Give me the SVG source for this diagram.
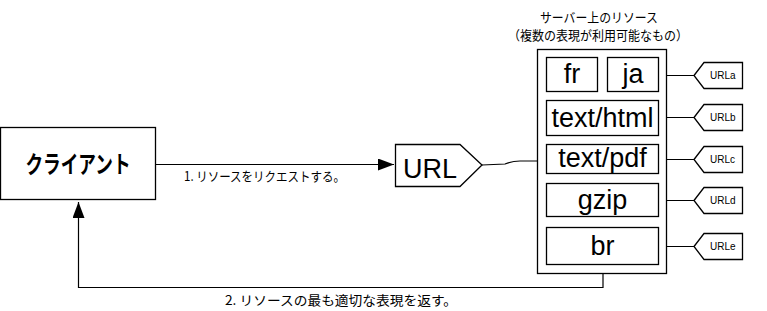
<svg xmlns="http://www.w3.org/2000/svg" width="767" height="311" viewBox="0 0 767 311">
<style>
.box{fill:#fff;stroke:#000;stroke-width:1.3}
.wire{fill:none;stroke:#000;stroke-width:1.2}
.big{font-family:"Liberation Sans",Arial,sans-serif;font-size:27px;fill:#000;text-anchor:middle}
.tag{font-family:"Liberation Sans",Arial,sans-serif;font-size:10px;fill:#000}
.jp{font-family:"Noto Sans CJK JP",sans-serif;font-size:13px;fill:#000}
</style>
<defs>
<marker id="ah" markerWidth="16" markerHeight="12" refX="16" refY="6" orient="auto" markerUnits="userSpaceOnUse">
<path d="M0,0 L16,6 L0,12 Z" fill="#000"/>
</marker>
</defs>
<g id="connectors">
<line class="wire" x1="156" y1="164.5" x2="394" y2="164.5" marker-end="url(#ah)"/>
<path class="wire" d="M603,265 V287.5 H78.5 V202" marker-end="url(#ah)"/>
<path class="wire" d="M482,165 L505,164 Q512,161 520,161 L537,161"/>
<path class="wire" d="M659,75.5 H694 M659,117.5 H694 M659,159.5 H694 M659,200.5 H694 M659,246.5 H694"/>
<text class="jp" x="184" y="181" textLength="161" lengthAdjust="spacingAndGlyphs">1. リソースをリクエストする。</text>
<text class="jp" x="225" y="305" font-size="13.5" textLength="232" lengthAdjust="spacingAndGlyphs">2. リソースの最も適切な表現を返す。</text>
</g>
<g id="client">
<rect class="box" x="0.5" y="127.5" width="155" height="72"/>
<text x="78" y="173" font-family="Noto Sans CJK JP,sans-serif" font-size="24" font-weight="bold" text-anchor="middle" textLength="105" lengthAdjust="spacingAndGlyphs">クライアント</text>
</g>
<g id="url">
<path class="box" d="M395.5,144.5 H460 L482,165 L460,186.5 H395.5 Z"/>
<text class="big" x="430" y="178">URL</text>
</g>
<g id="server">
<text class="jp" x="599" y="22" text-anchor="middle" textLength="118" lengthAdjust="spacingAndGlyphs">サーバー上のリソース</text>
<text class="jp" x="598" y="40" text-anchor="middle" textLength="180" lengthAdjust="spacingAndGlyphs">（複数の表現が利用可能なもの）</text>
<rect class="box" x="537.5" y="49.5" width="129" height="224"/>
<g id="fr"><rect class="box" x="546.5" y="57.5" width="51" height="34"/><text class="big" x="572" y="83">fr</text></g>
<g id="ja"><rect class="box" x="607.5" y="57.5" width="51" height="34"/><text class="big" x="633" y="83">ja</text></g>
<g id="html"><rect class="box" x="546.5" y="100.5" width="112" height="35"/><text class="big" x="602.5" y="127">text/html</text></g>
<g id="pdf"><rect class="box" x="546.5" y="144.5" width="112" height="29"/><text class="big" x="602.5" y="167">text/pdf</text></g>
<g id="gzip"><rect class="box" x="546.5" y="183.5" width="112" height="33"/><text class="big" x="602.5" y="209">gzip</text></g>
<g id="br"><rect class="box" x="546.5" y="227.5" width="112" height="37"/><text class="big" x="602.5" y="255">br</text></g>
</g>
<g id="urla"><path class="box" d="M694,75.5 L704,62.5 H742.5 V88.5 H704 Z"/><text class="tag" x="710" y="79">URLa</text></g>
<g id="urlb"><path class="box" d="M694,117.5 L704,104.5 H742.5 V130.5 H704 Z"/><text class="tag" x="710" y="121">URLb</text></g>
<g id="urlc"><path class="box" d="M694,159.5 L704,146.5 H742.5 V172.5 H704 Z"/><text class="tag" x="710" y="163">URLc</text></g>
<g id="urld"><path class="box" d="M694,200.5 L704,187.5 H742.5 V213.5 H704 Z"/><text class="tag" x="710" y="204">URLd</text></g>
<g id="urle"><path class="box" d="M694,246.5 L704,233.5 H742.5 V259.5 H704 Z"/><text class="tag" x="710" y="250">URLe</text></g>
</svg>
